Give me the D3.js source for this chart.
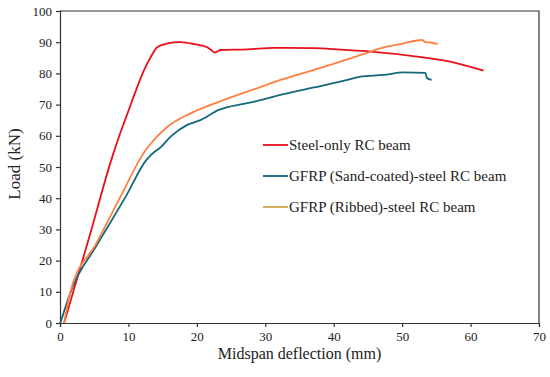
<!DOCTYPE html>
<html>
<head>
<meta charset="utf-8">
<script src="https://cdn.jsdelivr.net/npm/d3@7"></script>
<style>
  body { margin: 0; background: #fff; }
  svg text {
    font-family: "Liberation Serif", "Times New Roman", Times, Tinos, "Nimbus Roman",
      "FreeSerif", "DejaVu Serif", "Noto Serif", serif;
    fill: #222;
  }
</style>
</head>
<body>
<div id="chart"></div>
<script>
// Load-deflection curves: [deflection mm, load kN]
const steelOnly = [
  [0.6, 0], [4.3, 27.7], [7.6, 53.0], [8.6, 59.6], [9.6, 65.6], [10.5, 71.0],
  [11.3, 75.7], [12.3, 81.1], [13.3, 85.4], [14.2, 88.4], [15.7, 89.6],
  [17.6, 90.0], [19.6, 89.4], [21.5, 88.4], [22.2, 87.3], [22.6, 86.7],
  [23.5, 87.5], [27.4, 87.7], [31.3, 88.2], [37.1, 88.1], [41.0, 87.6],
  [45.4, 87.0], [52.2, 85.4], [57.0, 83.8], [61.9, 80.9]
];
const sandCoated = [
  [0.05, 0], [1.85, 11.6], [5.25, 24.5], [9.6, 40.5], [12.6, 52.2], [14.0, 55.2],
  [14.6, 56.1], [16.2, 59.8], [18.6, 63.5], [20.6, 65.1], [23.2, 68.3],
  [26.4, 70.1], [28.3, 70.9], [32.2, 73.1], [37.1, 75.5], [42.0, 77.9],
  [43.9, 79.0], [47.3, 79.5], [50.2, 80.3], [53.4, 80.2], [53.6, 78.6], [54.3, 77.9]
];
const ribbed = [
  [0.6, 0], [1.6, 10.6], [5.25, 25.3], [9.1, 41.6], [11.6, 52.2], [12.5, 55.4],
  [13.3, 57.6], [15.7, 62.9], [19.1, 67.2], [23.2, 70.9], [29.8, 76.0],
  [32.2, 77.9], [37.1, 81.1], [42.0, 84.5], [45.4, 87.0], [46.8, 88.0],
  [49.7, 89.4], [52.9, 90.7], [53.4, 90.0], [54.1, 89.9], [55.2, 89.4]
];
const seriesNames = ["Steel-only RC beam", "GFRP (Sand-coated)-steel RC beam", "GFRP (Ribbed)-steel RC beam"];
const xTicks = [0, 10, 20, 30, 40, 50, 60, 70];
const yTicks = [0, 10, 20, 30, 40, 50, 60, 70, 80, 90, 100];

const series = [
  { name: seriesNames[0], values: steelOnly, color: "#e8101c", key: "#e8101c" },
  { name: seriesNames[1], values: sandCoated, color: "#14687c", key: "#14687c" },
  { name: seriesNames[2], values: ribbed, color: "#ff8040", key: "#cfa64a" }
];

const width = 550, height = 377;
const margin = { top: 11, right: 11, bottom: 54, left: 60 };
const innerW = width - margin.left - margin.right;
const innerH = height - margin.top - margin.bottom;

const svg = d3.select("#chart").append("svg")
  .attr("width", width)
  .attr("height", height);

const g = svg.append("g")
  .attr("transform", `translate(${margin.left},${margin.top})`);

const x = d3.scaleLinear().domain([0, 70]).range([0, innerW]);
const y = d3.scaleLinear().domain([0, 100]).range([innerH, 0]);

// frame (top and right)
g.append("path")
  .attr("d", `M0,0H${innerW}V${innerH}`)
  .attr("fill", "none")
  .attr("stroke", "#333")
  .attr("stroke-width", 1.2);

// axes
const xAxis = g.append("g")
  .attr("transform", `translate(0,${innerH})`)
  .call(d3.axisBottom(x).tickValues(xTicks).tickSize(4).tickPadding(5));
const yAxis = g.append("g")
  .call(d3.axisLeft(y).tickValues(yTicks).tickSize(4).tickPadding(4));

[xAxis, yAxis].forEach(a => {
  a.attr("font-family", null);
  a.selectAll("path, line").attr("stroke", "#333").attr("stroke-width", 1.2);
  a.selectAll("text")
    .style("font-size", "13px")
    .attr("fill", "#222");
});

// curves
const line = d3.line()
  .x(d => x(d[0]))
  .y(d => y(d[1]))
  .curve(d3.curveMonotoneX);

g.selectAll("path.curve")
  .data(series)
  .join("path")
  .attr("class", "curve")
  .attr("fill", "none")
  .attr("stroke", d => d.color)
  .attr("stroke-width", 1.8)
  .attr("stroke-linejoin", "round")
  .attr("d", d => line(d.values));

// legend
const legend = g.append("g")
  .attr("transform", `translate(${263 - margin.left},${145 - margin.top})`);

series.forEach((s, i) => {
  const row = legend.append("g").attr("transform", `translate(0,${i * 31})`);
  row.append("line")
    .attr("x1", 0).attr("x2", 25)
    .attr("y1", 0).attr("y2", 0)
    .attr("stroke", s.key)
    .attr("stroke-width", 1.8);
  row.append("text")
    .attr("x", 26)
    .attr("y", 5)
    .style("font-size", "15px")
    .text(s.name);
});

// axis titles
svg.append("text")
  .attr("x", margin.left + innerW / 2)
  .attr("y", 359)
  .attr("text-anchor", "middle")
  .style("font-size", "16px")
  .text("Midspan deflection (mm)");

svg.append("text")
  .attr("transform", "rotate(-90)")
  .attr("x", -164)
  .attr("y", 20)
  .attr("text-anchor", "middle")
  .style("font-size", "17px")
  .text("Load (kN)");
</script>
</body>
</html>
